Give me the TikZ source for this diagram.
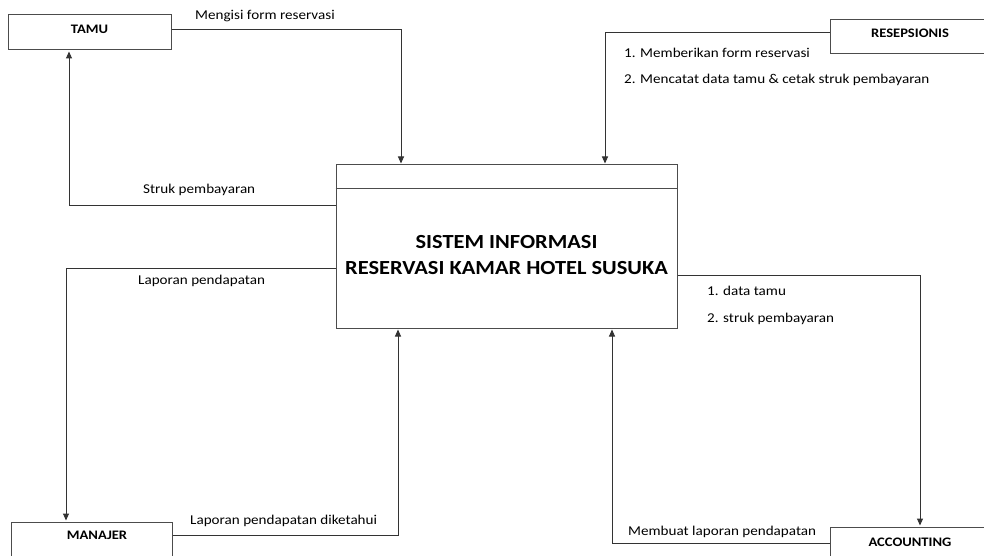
\documentclass[tikz,border=0pt]{standalone}
\usepackage{fontspec}
\setmainfont[FakeStretch=1.12]{Carlito}
\usetikzlibrary{arrows.meta}
\tikzset{
  entity/.style={draw=black!70, line width=1pt, fill=white, inner sep=0pt},
  etext/.style={font=\bfseries\fontsize{13}{15}\selectfont, inner sep=0pt},
  flowlabel/.style={font=\fontsize{13.5}{16}\selectfont, inner sep=0pt, anchor=west},
  flow/.style={draw=black!80, line width=1pt, -{Triangle[length=7pt,width=6pt]}, shorten >=1pt},
}
\begin{document}
\begin{tikzpicture}[x=1pt, y=-1pt]
  \useasboundingbox (0,0) rectangle (984,556);
  \fill[white] (0,0) rectangle (984,556);

  % external entities
  \node[entity, minimum width=163pt, minimum height=35pt] (tamu) at (89.5,32.5) {};
  \node[etext] (tamut) at (89.5,29) {TAMU};
  \node[entity, minimum width=160pt, minimum height=34pt] (resep) at (910,37) {};
  \node[etext] (resept) at (910,33) {RESEPSIONIS};
  \node[entity, minimum width=161pt, minimum height=40pt] (manajer) at (91.5,542) {};
  \node[etext] (manajert) at (97,535) {MANAJER};
  \node[entity, minimum width=160pt, minimum height=34pt] (acc) at (910,544) {};
  \node[etext] (acct) at (910,542) {ACCOUNTING};

  % process box
  \node[entity, minimum width=341pt, minimum height=163pt] (sys) at (506.5,246.5) {};
  \draw[draw=black!70, line width=1pt] (sys.west |- 0,188) -- (sys.east |- 0,188);
  \node[font=\bfseries\fontsize{20}{26}\selectfont, align=center, inner sep=0pt] (syst) at (506.5,255)
    {SISTEM INFORMASI\\RESERVASI KAMAR HOTEL SUSUKA};

  % data flows
  \draw[flow] (tamu.east |- 0,30) -| (sys.north -| 401,0);
  \draw[flow] (sys.west |- 0,205) -| (tamu.south -| 69,0);
  \draw[flow] (resep.west |- 0,33) -| (sys.north -| 605,0);
  \draw[flow] (sys.west |- 0,268) -| (manajer.north -| 66,0);
  \draw[flow] (manajer.east |- 0,535) -| (sys.south -| 398,0);
  \draw[flow] (sys.east |- 0,275) -| (acc.north -| 920,0);
  \draw[flow] (acc.west |- 0,543) -| (sys.south -| 612,0);

  % flow labels
  \node[flowlabel] (l1) at (195,16) {Mengisi form reservasi};
  \node[flowlabel] (l2) at (143,190) {Struk pembayaran};
  \node[flowlabel] (l3) at (624,53) {1. Memberikan form reservasi};
  \node[flowlabel] (l4) at (624,80) {2. Mencatat data tamu \& cetak struk pembayaran};
  \node[flowlabel] (l5) at (138,281) {Laporan pendapatan};
  \node[flowlabel] (l6) at (190,521) {Laporan pendapatan diketahui};
  \node[flowlabel] (l7) at (707,291) {1. data tamu};
  \node[flowlabel] (l8) at (707,319) {2. struk pembayaran};
  \node[flowlabel] (l9) at (628,532) {Membuat laporan pendapatan};
\end{tikzpicture}
\end{document}
